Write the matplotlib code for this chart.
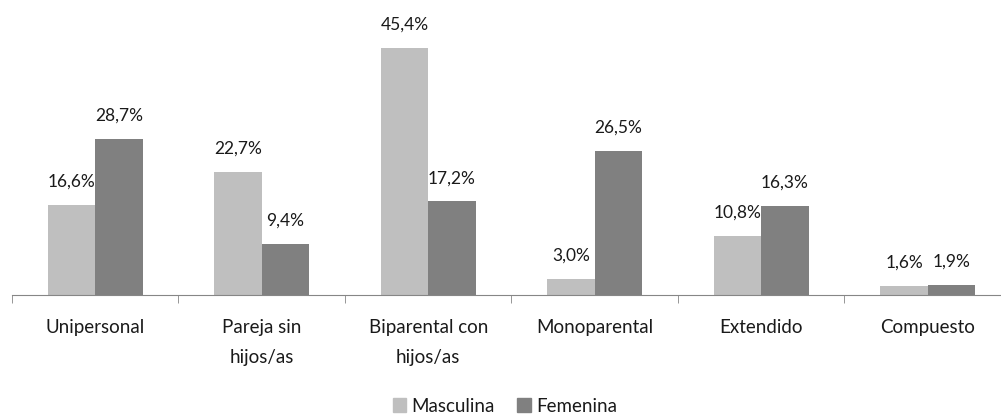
import numpy as np
import matplotlib.pyplot as plt
from matplotlib.patches import Patch

plt.rcParams["font.family"] = ["Lato", "DejaVu Sans"]

categories = ["Unipersonal", "Pareja sin\nhijos/as", "Biparental con\nhijos/as",
              "Monoparental", "Extendido", "Compuesto"]
masculina = [16.6, 22.7, 45.4, 3.0, 10.8, 1.6]
femenina = [28.7, 9.4, 17.2, 26.5, 16.3, 1.9]
series_names = ["Masculina", "Femenina"]
colors = ["#BFBFBF", "#808080"]


def fmt(v):
    return f"{v:.1f}%".replace(".", ",")


def main():
    fig = plt.figure(figsize=(10.01, 4.17), dpi=100)
    ax = fig.add_axes([12 / 1001, 1 - 295 / 417, 999 / 1001, 285 / 417])

    x = np.arange(len(categories))
    w = 0.285
    bars_m = ax.bar(x - w / 2, masculina, w, color=colors[0])
    bars_f = ax.bar(x + w / 2, femenina, w, color=colors[1])

    for bars, vals in ((bars_m, masculina), (bars_f, femenina)):
        for b, v in zip(bars, vals):
            ax.annotate(fmt(v), (b.get_x() + b.get_width() / 2, v),
                        xytext=(0, 11), textcoords="offset points",
                        ha="center", va="bottom", fontsize=12.5, color="#1a1a1a")

    ax.set_xlim(-0.5, len(categories) - 0.5)
    ax.set_ylim(0, 285 / 5.44)

    for side in ("left", "right", "top"):
        ax.spines[side].set_visible(False)
    ax.spines["bottom"].set_color("#868686")
    ax.set_yticks([])

    ax.set_xticks(x)
    ax.set_xticklabels(categories, fontsize=13.5, linespacing=1.95, color="#1a1a1a")
    ax.tick_params(axis="x", which="major", length=0, pad=17)
    ax.set_xticks(np.arange(-0.5, len(categories)), minor=True)
    ax.tick_params(axis="x", which="minor", length=6, color="#868686",
                   direction="out")

    handles = [Patch(color=c, label=n) for c, n in zip(colors, series_names)]
    fig.legend(handles=handles, loc="center", bbox_to_anchor=(505 / 1001, 1 - 406 / 417),
               ncol=2, frameon=False, fontsize=13.5, handlelength=0.7,
               handleheight=0.7, handletextpad=0.3, columnspacing=1.2,
               labelcolor="#1a1a1a")

    fig.savefig("out.png", dpi=100)


if __name__ == "__main__":
    main()
